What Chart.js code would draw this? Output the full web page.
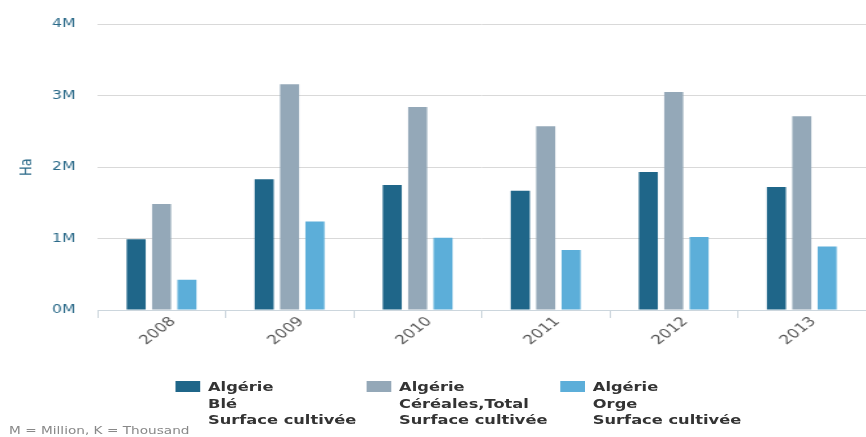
<!DOCTYPE html>
<html>
<head>
<meta charset="utf-8">
<script src="https://cdn.jsdelivr.net/npm/chart.js@4.4.1/dist/chart.umd.min.js"></script>
<style>
  html, body { margin: 0; padding: 0; background: #fff; overflow: hidden; }
  /* the whole figure is laid out narrow and widened by 1.3 */
  #wrap { position: relative; width: 666px; height: 437px; transform: scaleX(1.3); transform-origin: 0 0; }
  #myChart { position: absolute; left: 0; top: 0; }
  .legendItem { position: absolute; top: 379px; font: bold 12.5px "DejaVu Sans", sans-serif; color: #333; line-height: 16.5px; }
  .legendItem .box { position: absolute; left: 0; top: 2px; width: 19px; height: 11px; }
  .legendItem .txt { margin-left: 25px; white-space: nowrap; }
  #note { position: absolute; left: 7px; top: 424px; font: 10.5px "DejaVu Sans", sans-serif; color: #888; white-space: nowrap; }
</style>
</head>
<body>
<div id="wrap">
  <canvas id="myChart" width="666" height="437"></canvas>
  <div id="legend"></div>
  <div id="note">M = Million, K = Thousand</div>
</div>
<script>
// years on the x axis
let years = ['2008', '2009', '2010', '2011', '2012', '2013']
// cultivated area in hectares
let ble = [990000, 1830000, 1750000, 1670000, 1930000, 1720000]
let cereales = [1485000, 3160000, 2840000, 2570000, 3050000, 2710000]
let orge = [425000, 1240000, 1010000, 840000, 1020000, 890000]
// legend text, one entry per line
let labelBle = ['Algérie', 'Blé', 'Surface cultivée']
let labelCereales = ['Algérie', 'Céréales,Total', 'Surface cultivée']
let labelOrge = ['Algérie', 'Orge', 'Surface cultivée']
let yTicks = [0, 1000000, 2000000, 3000000, 4000000]

let datasets = [
  { label: labelBle, data: ble, backgroundColor: '#1f6689' },
  { label: labelCereales, data: cereales, backgroundColor: '#94a8b8' },
  { label: labelOrge, data: orge, backgroundColor: '#5caed9' }
]

var ctx = document.getElementById('myChart')
var myChart = new Chart(ctx, {
  type: 'bar',
  data: { labels: years, datasets: datasets },
  options: {
    responsive: false,
    animation: false,
    layout: { padding: { top: 13, left: 0, right: 0, bottom: 77 } },
    plugins: { legend: { display: false }, tooltip: { enabled: false } },
    datasets: { bar: { categoryPercentage: 0.595, barPercentage: 0.75 } },
    scales: {
      x: {
        grid: { offset: true, drawOnChartArea: false, tickLength: 8, color: '#ccd6dd' },
        border: { color: '#ccd6dd' },
        ticks: {
          minRotation: 45, maxRotation: 45, padding: -4, labelOffset: 9,
          color: '#555', font: { family: 'DejaVu Sans', size: 13 }
        },
        afterFit: function(scale) { scale.height = 50 }
      },
      y: {
        min: 0, max: 4000000,
        afterBuildTicks: function(scale) { scale.ticks = yTicks.map(v => ({ value: v })) },
        grid: { color: '#d9d9d9', drawTicks: false },
        border: { display: false },
        ticks: {
          padding: 17, color: '#2b6a89',
          font: { family: 'DejaVu Sans', size: 12 },
          callback: function(v) { return (v / 1000000) + 'M' }
        },
        title: {
          display: true, text: 'Ha', color: '#2b6a89', padding: { top: 13 },
          font: { family: 'DejaVu Sans', size: 13 }
        },
        afterFit: function(scale) { scale.width = 75 }
      }
    }
  }
})

// legend below the chart, three columns
let legendX = [135, 282, 431]
datasets.forEach(function(ds, i) {
  $item = document.createElement('div')
  $item.className = 'legendItem'
  $item.style.left = legendX[i] + 'px'
  $item.innerHTML = '<div class="box" style="background:' + ds.backgroundColor + '"></div>' +
    '<div class="txt">' + ds.label.join('<br>') + '</div>'
  document.getElementById('legend').appendChild($item)
})
</script>
</body>
</html>
